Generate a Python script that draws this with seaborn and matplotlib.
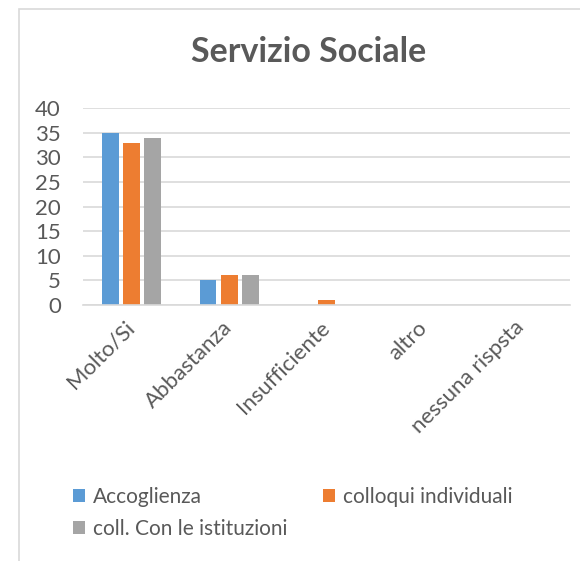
import pandas as pd
import matplotlib.pyplot as plt
import matplotlib.patches as mpatches
import seaborn as sns

# data
categories = ["Molto/Si", "Abbastanza", "Insufficiente", "altro", "nessuna rispsta"]
series = ["Accoglienza", "colloqui individuali", "coll. Con le istituzioni"]
accoglienza = [35, 5, 0, 0, 0]
colloqui = [33, 6, 1, 0, 0]
istituzioni = [34, 6, 0, 0, 0]
colors = ["#5B9BD5", "#ED7D31", "#A5A5A5"]

data = pd.DataFrame({
    "Categoria": categories * 3,
    "Serie": [s for s in series for _ in categories],
    "Valore": accoglienza + colloqui + istituzioni,
})

sns.set_style("white")
plt.rcParams["font.family"] = ["Lato", "DejaVu Sans"]
text_color = "#595959"
grid_color = "#d9d9d9"

f = plt.figure(figsize=(5.8, 5.61), dpi=100)
ax = f.add_axes([83 / 580, 1 - 305 / 561, 487 / 580, (305 - 108.3) / 561])

sns.barplot(
    data=data,
    x="Categoria",
    y="Valore",
    hue="Serie",
    order=categories,
    hue_order=series,
    palette=colors,
    width=0.65,
    gap=0.2,
    linewidth=0,
    saturation=1,
    ax=ax,
)

ax.set_ylim(0, 40)
ax.set_xlim(-0.5, len(categories) - 0.5)
ax.set_yticks(range(0, 41, 5))
ax.yaxis.grid(True, color=grid_color, linewidth=1.2)
ax.set_axisbelow(True)
for side in ["top", "right", "left"]:
    ax.spines[side].set_visible(False)
ax.spines["bottom"].set_color(grid_color)
ax.spines["bottom"].set_linewidth(1.2)
ax.tick_params(axis="both", length=0, labelsize=16, labelcolor=text_color)
ax.tick_params(axis="y", pad=16)
ax.tick_params(axis="x", pad=14)
plt.setp(ax.get_xticklabels(), rotation=45, ha="right", va="center",
         rotation_mode="anchor")
ax.set_xlabel("")
ax.set_ylabel("")

f.suptitle("Servizio Sociale", x=309 / 580, y=1 - 52 / 561, va="center",
           fontsize=24.5, fontweight="bold", color=text_color)

# legend, row-wise like the original
handles, labels = ax.get_legend_handles_labels()
ax.get_legend().remove()
order = [0, 2, 1]
f.legend(
    [handles[i] for i in order],
    [labels[i] for i in order],
    ncol=2,
    loc="upper left",
    bbox_to_anchor=(54 / 580, 1 - 468 / 561),
    frameon=False,
    fontsize=15,
    labelcolor=text_color,
    handlelength=0.58,
    handleheight=0.58,
    handletextpad=0.38,
    labelspacing=0.58,
    columnspacing=1.7,
)

# outer chart frame (cut off at right and bottom)
f.patches.append(mpatches.Rectangle(
    (19 / 580, -0.1), 1.2, 1.1 - 9 / 561,
    transform=f.transFigure, fill=False, edgecolor=grid_color, linewidth=1.2))

f.savefig("out.png")
